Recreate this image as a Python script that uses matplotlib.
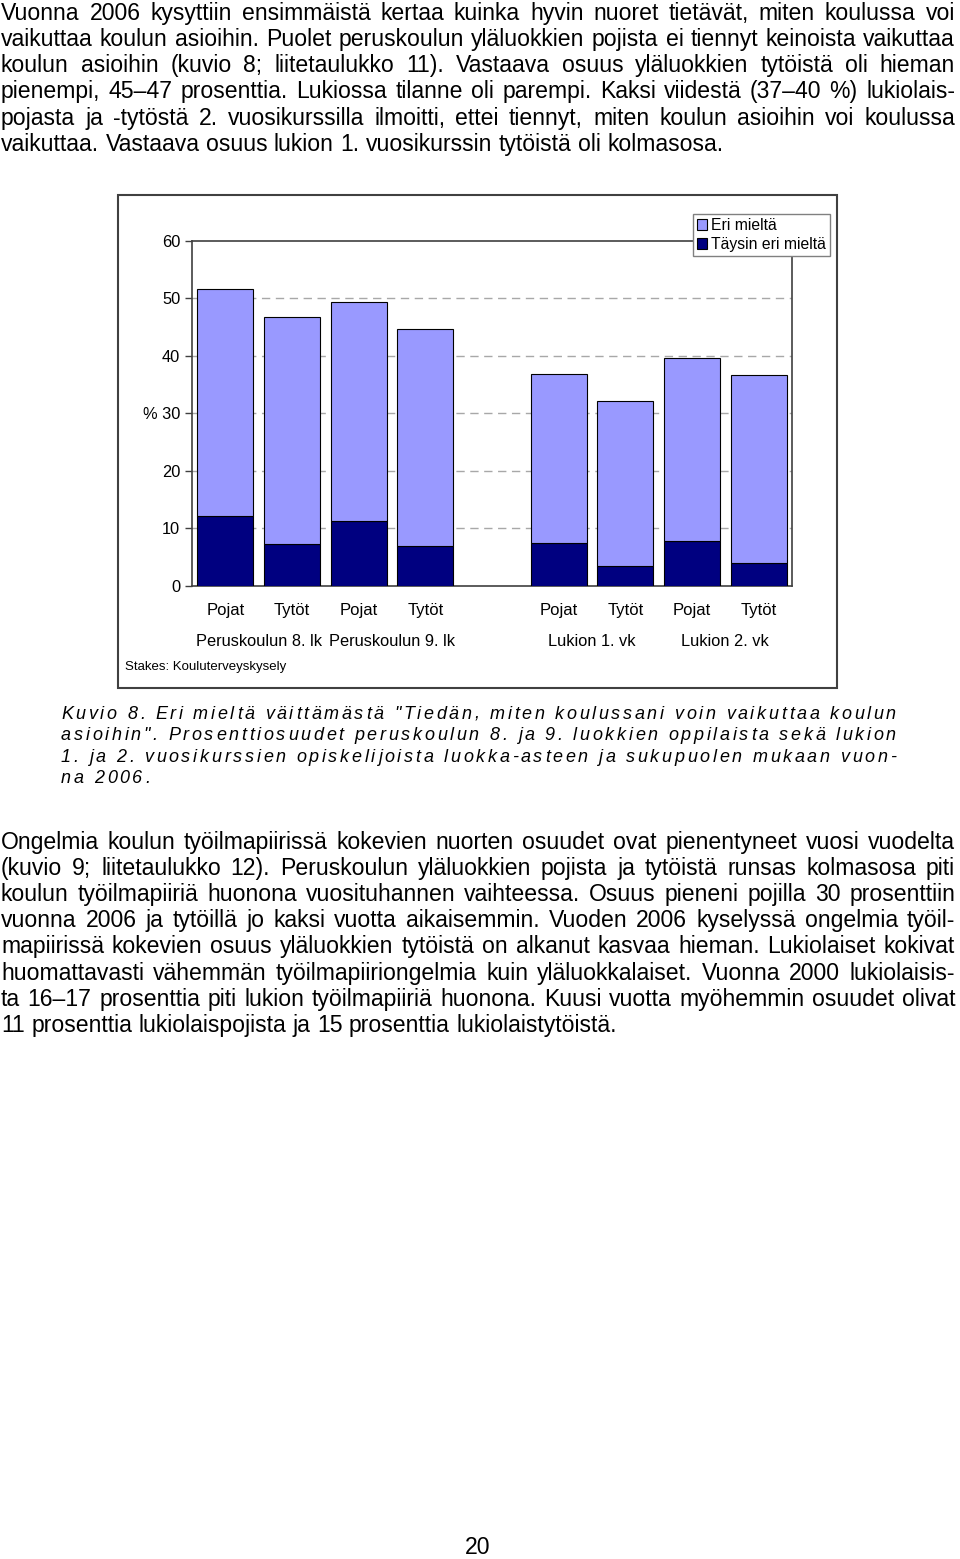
import numpy as np
import matplotlib.pyplot as plt
import matplotlib.transforms as mtransforms
from matplotlib.font_manager import FontProperties
from matplotlib.patches import Rectangle, Patch

plt.rcParams['font.family'] = ['Liberation Sans', 'DejaVu Sans']

# --- data -------------------------------------------------------------
groups = ["Peruskoulun 8. lk", "Peruskoulun 9. lk", "Lukion 1. vk", "Lukion 2. vk"]
sexes = ["Pojat", "Tytöt"]
taysin_eri = [12.1, 7.3, 11.3, 6.9, 7.4, 3.4, 7.8, 4.0]      # Täysin eri mieltä
eri_mielta = [39.5, 39.5, 38.1, 37.7, 29.5, 28.8, 31.9, 32.7]  # Eri mieltä
yticks = [0, 10, 20, 30, 40, 50, 60]
ytick_labels = ["0", "10", "20", "% 30", "40", "50", "60"]
series_names = ["Eri mieltä", "Täysin eri mieltä"]
source = "Stakes: Kouluterveyskysely"

para1 = [
    "Vuonna 2006 kysyttiin ensimmäistä kertaa kuinka hyvin nuoret tietävät, miten koulussa voi",
    "vaikuttaa koulun asioihin. Puolet peruskoulun yläluokkien pojista ei tiennyt keinoista vaikuttaa",
    "koulun asioihin (kuvio 8; liitetaulukko 11). Vastaava osuus yläluokkien tytöistä oli hieman",
    "pienempi, 45–47 prosenttia. Lukiossa tilanne oli parempi. Kaksi viidestä (37–40 %) lukiolais-",
    "pojasta ja -tytöstä 2. vuosikurssilla ilmoitti, ettei tiennyt, miten koulun asioihin voi koulussa",
    "vaikuttaa. Vastaava osuus lukion 1. vuosikurssin tytöistä oli kolmasosa.",
]
caption = [
    'Kuvio 8. Eri mieltä väittämästä "Tiedän, miten koulussani voin vaikuttaa koulun',
    'asioihin". Prosenttiosuudet peruskoulun 8. ja 9. luokkien oppilaista sekä lukion',
    '1. ja 2. vuosikurssien opiskelijoista luokka-asteen ja sukupuolen mukaan vuon-',
    'na 2006.',
]
para2 = [
    "Ongelmia koulun työilmapiirissä kokevien nuorten osuudet ovat pienentyneet vuosi vuodelta",
    "(kuvio 9; liitetaulukko 12). Peruskoulun yläluokkien pojista ja tytöistä runsas kolmasosa piti",
    "koulun työilmapiiriä huonona vuosituhannen vaihteessa. Osuus pieneni pojilla 30 prosenttiin",
    "vuonna 2006 ja tytöillä jo kaksi vuotta aikaisemmin. Vuoden 2006 kyselyssä ongelmia työil-",
    "mapiirissä kokevien osuus yläluokkien tytöistä on alkanut kasvaa hieman. Lukiolaiset kokivat",
    "huomattavasti vähemmän työilmapiiriongelmia kuin yläluokkalaiset. Vuonna 2000 lukiolaisis-",
    "ta 16–17 prosenttia piti lukion työilmapiiriä huonona. Kuusi vuotta myöhemmin osuudet olivat",
    "11 prosenttia lukiolaispojista ja 15 prosenttia lukiolaistytöistä.",
]
page_no = "20"

light = '#9999ff'
dark = '#000080'
frame = '#404040'

# --- page -------------------------------------------------------------
W, H = 960, 1559
fig = plt.figure(figsize=(W / 100, H / 100), dpi=100)
bg = fig.add_axes([0, 0, 1, 1])
bg.set_xlim(0, W)
bg.set_ylim(H, 0)
bg.axis('off')
renderer = fig.canvas.get_renderer()


def width(s, fp):
    w, h, d = renderer.get_text_width_height_descent(s, fp, ismath=False)
    return w


def justify(line, y, x0, x1, fp, last=False):
    words = line.split(' ')
    ws = [width(w, fp) for w in words]
    sp = fp.get_size_in_points() * 100 / 72 * 0.278
    gap = sp if last or len(words) == 1 else (x1 - x0 - sum(ws)) / (len(words) - 1)
    x = x0
    for w, wd in zip(words, ws):
        bg.text(x, y, w, fontproperties=fp, ha='left', va='baseline', color='black')
        x += wd + gap


def spaced(line, y, x0, x1, fp, extra=None):
    em = fp.get_size_in_points() * 100 / 72
    ws = [width(c, fp) if c != ' ' else 0.278 * em for c in line]
    if extra is None:
        extra = (x1 - x0 - sum(ws)) / (len(line) - 1)
    x = x0
    for c, wd in zip(line, ws):
        if c != ' ':
            bg.text(x, y, c, fontproperties=fp, ha='left', va='baseline', color='black')
        x += wd + extra
    return extra


body = FontProperties(family='Liberation Sans', size=16.6)
ital = FontProperties(family='Liberation Sans', style='italic', size=13)

for i, line in enumerate(para1):
    justify(line, 19.5 + i * 26.3, 1, 955, body, last=(i == len(para1) - 1))

ex = None
for i, line in enumerate(caption):
    if i < len(caption) - 1:
        ex = spaced(line, 718.5 + i * 21.6, 61, 896, ital)
    else:
        spaced(line, 718.5 + i * 21.6, 61, 896, ital, extra=ex)

for i, line in enumerate(para2):
    justify(line, 848.5 + i * 26.2, 1, 955, body, last=(i == len(para2) - 1))

bg.text(478, 1554, page_no, fontproperties=body, ha='center', va='baseline')

# chart frame
bg.add_patch(Rectangle((118, 195), 719, 493, facecolor='white', edgecolor=frame, lw=1.5))

# --- chart ------------------------------------------------------------
ax = fig.add_axes([192 / W, 1 - 585.7 / H, 600 / W, (585.7 - 241) / H])
pos = []
for gi in range(len(groups)):
    for si in range(len(sexes)):
        pos.append(gi * 2 + si + (1 if gi >= 2 else 0))
pos = np.array(pos)

ax.bar(pos, taysin_eri, width=0.84, color=dark, edgecolor='black', lw=0.8, zorder=3)
ax.bar(pos, eri_mielta, bottom=taysin_eri, width=0.84, color=light,
       edgecolor='black', lw=0.8, zorder=3)
for v in yticks[1:-1]:
    ax.axhline(v, color='#a8a8a8', lw=1, ls=(0, (6, 4)), zorder=1)

ax.set_xlim(-0.5, 8.5)
ax.set_ylim(yticks[0], yticks[-1])
ax.set_yticks(yticks, ytick_labels, fontsize=11.8)
ax.set_xticks([])
ax.tick_params(axis='y', length=5, width=1, color=frame, pad=3.5)
for s in ax.spines.values():
    s.set_color(frame)
    s.set_linewidth(1.2)

tr = mtransforms.blended_transform_factory(ax.transData, bg.transData)
for p, lab in zip(pos, sexes * len(groups)):
    ax.text(p, 615, lab, transform=tr, ha='center', va='baseline', fontsize=12)
for gi, g in enumerate(groups):
    ax.text(pos[2 * gi:2 * gi + 2].mean(), 646, g, transform=tr,
            ha='center', va='baseline', fontsize=11.8)
bg.text(125, 670, source, fontsize=9.5, ha='left', va='baseline')

handles = [Patch(facecolor=light, edgecolor='black', lw=0.8),
           Patch(facecolor=dark, edgecolor='black', lw=0.8)]
leg = fig.legend(handles, series_names, loc='upper left',
                 bbox_to_anchor=(693 / W, 1 - 214 / H), bbox_transform=fig.transFigure,
                 fontsize=11.3, frameon=True, fancybox=False, framealpha=1,
                 edgecolor='#808080', borderpad=0.25, borderaxespad=0,
                 handlelength=0.65, handleheight=0.65, handletextpad=0.25,
                 labelspacing=0.25)
leg.get_frame().set_linewidth(1)

fig.savefig('out.png', dpi=100)
